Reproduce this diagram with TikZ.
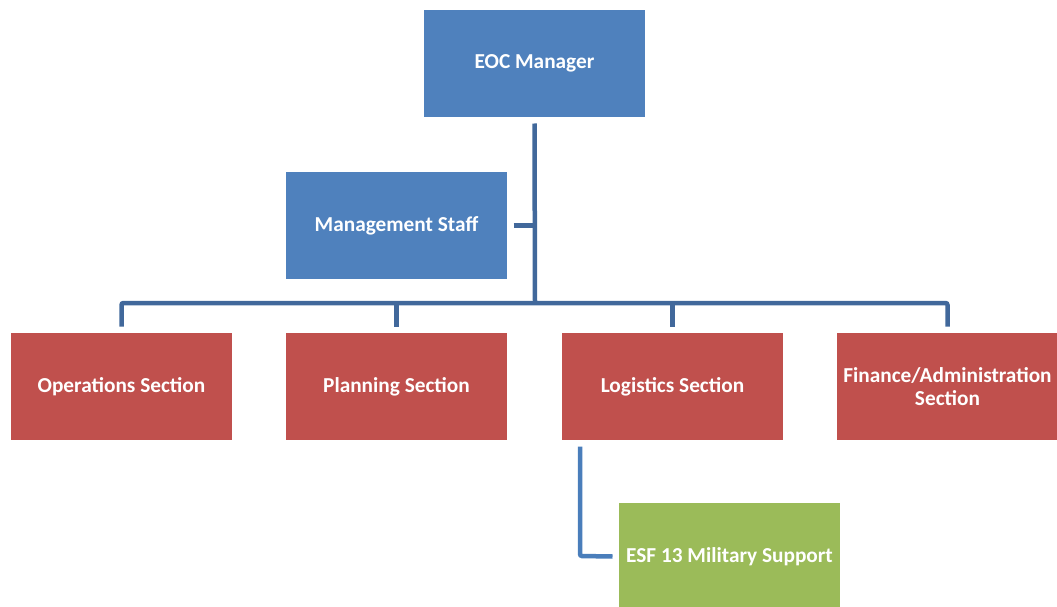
\documentclass[tikz,border=0pt]{standalone}
\usepackage{fontspec}
\setmainfont{Carlito}
\usepackage{xcolor}
\usepackage{tikz}

\definecolor{mgrblue}{HTML}{4F81BD}
\definecolor{secred}{HTML}{C0504D}
\definecolor{supgreen}{HTML}{9BBB59}
\definecolor{linkblue}{HTML}{41689B}
\definecolor{esfblue}{HTML}{4A7EBB}

\begin{document}
\begin{tikzpicture}[x=1pt, y=-1pt,
  box/.style={minimum width=221pt, minimum height=107pt, inner sep=1pt,
    outer sep=6.5pt, text=white, align=center,
    font=\fontsize{21.3}{22.5}\selectfont\bfseries},
  mgr/.style={box, fill=mgrblue},
  sec/.style={box, fill=secred},
  sup/.style={box, fill=supgreen},
  link/.style={draw=linkblue, line width=4.5pt, rounded corners=2pt},
  esflink/.style={draw=esfblue, line width=4.5pt, rounded corners=2pt}
]
\useasboundingbox (0,0) rectangle (1057,607);

\node[mgr] (eoc) at (534.5,63.5) {EOC Manager};
\node[mgr] (mgmt) at (396.5,225.5) {Management Staff};

\node[sec] (ops) at (121.5,386.5) {Operations Section};
\node[sec] (plan) at (396.5,386.5) {Planning Section};
\node[sec] (logi) at (672.5,386.5) {Logistics Section};
\node[sec] (fin) at (947.5,386.5) {Finance/Administration\\Section};

\node[sup] (esf) at (729.5,556.5) {ESF 13 Military Support};

\coordinate (bus) at (535,303);
\coordinate (esfknee) at (580,556);

\draw[link] (eoc.south) -- (bus);
\draw[link] (mgmt.east) -- (mgmt.east -| bus);
\draw[link] (ops.north) -- (ops.north |- bus) -- (fin.north |- bus) -- (fin.north);
\draw[link] (plan.north |- bus) -- (plan.north);
\draw[link] (logi.north |- bus) -- (logi.north);
\draw[esflink] (logi.south -| esfknee) -- (esfknee) -- (esf.west);
\end{tikzpicture}
\end{document}
